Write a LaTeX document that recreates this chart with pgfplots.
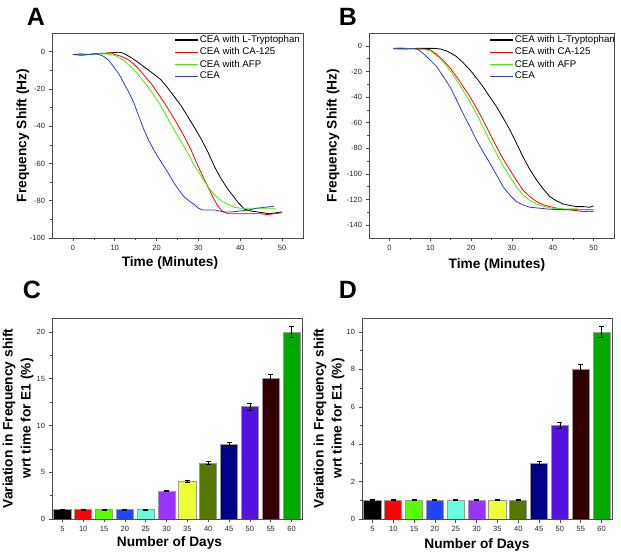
\documentclass[border=0pt]{standalone}
\usepackage{fontspec}
\setmainfont{Liberation Sans}
\usepackage{pgfplots}
\pgfplotsset{compat=1.18}
\definecolor{cRed}{HTML}{FF0000}
\definecolor{cLime}{HTML}{44EE00}
\definecolor{cBlue}{HTML}{2A3FD0}
\definecolor{bBlack}{HTML}{000000}
\definecolor{bRed}{HTML}{FF0000}
\definecolor{bLime}{HTML}{55FF00}
\definecolor{bBlue}{HTML}{2244FF}
\definecolor{bAqua}{HTML}{66FFDD}
\definecolor{bPurple}{HTML}{9933FF}
\definecolor{bYellow}{HTML}{EEFF33}
\definecolor{bOlive}{HTML}{557700}
\definecolor{bNavy}{HTML}{000088}
\definecolor{bViolet}{HTML}{5511DD}
\definecolor{bMaroon}{HTML}{330000}
\definecolor{bGreen}{HTML}{00AA00}
\pgfplotsset{
  common/.style={
    scale only axis,
    axis line style={black!70, line width=0.6pt},
    tick align=outside,
    xtick pos=bottom, ytick pos=left,
    major tick length=3.5pt, minor tick length=2pt,
    every tick/.style={black!70, line width=0.6pt},
    tick label style={font=\fontsize{7.5}{9}\selectfont, text=black!85},
    /pgf/number format/assume math mode=true,
    label style={font=\fontsize{13.7}{18}\selectfont\bfseries},
  },
  curves/.style={
    common,
    width=251pt, height=205pt,
    xmin=-5, xmax=55, xtick={0,10,...,50}, minor x tick num=1,
    xlabel={Time (Minutes)},
    ylabel={Frequency Shift (Hz)},
    minor y tick num=1,
    legend cell align=left,
    legend style={draw=none, fill=none, inner sep=0pt, row sep=0.6pt,
      font=\fontsize{9.7}{11}\selectfont,
      nodes={inner sep=1.5pt}},
    legend image code/.code={\draw[line width=1.2pt] (0pt,0pt) -- (23pt,0pt);},
  },
  bars/.style={
    common,
    width=250pt, height=201pt,
    xmin=2.5, xmax=62.5, xtick={5,10,...,60},
    ymin=0, minor y tick num=1,
    xlabel={Number of Days},
    ylabel={Variation in Frequency shift\\wrt time for E1 (\%)},
  },
  bb/.style={ybar, bar width=4.1, bar shift=0pt, draw=black!40, line width=0.8pt, fill=#1,
    error bars/.cd, y dir=both, y explicit,
    error bar style={black, line width=0.8pt},
    error mark options={rotate=90, black, mark size=2.5pt, line width=0.8pt}},
}
\begin{document}
\begin{tikzpicture}[x=1pt,y=1pt]
\useasboundingbox (0,0) rectangle (621,554);
\node[font=\fontsize{25}{30}\selectfont\bfseries] at (36,537) {A};
\node[font=\fontsize{25}{30}\selectfont\bfseries] at (348,537) {B};
\node[font=\fontsize{25}{30}\selectfont\bfseries] at (32,264) {C};
\node[font=\fontsize{25}{30}\selectfont\bfseries] at (348,264) {D};

% Panel A
\begin{axis}[curves, at={(52pt,316pt)}, anchor=south west,
  ymin=-100, ymax=10, ytick={-100,-80,...,0},
  xlabel style={at={(axis description cs:0.47,-0.122)}, anchor=center},
  ylabel style={at={(axis description cs:-0.116,0.5)}, anchor=center},
  legend style={at={(axis description cs:0.486,0.995)}, anchor=north west}]
\addplot[black, line width=0.8pt] coordinates {(0,-1.5) (2,-1.3) (4,-1.5) (6,-1) (8,-0.8) (10,-0.5) (11,-0.3) (12,-0.8) (13,-2) (14.5,-4) (16,-6.5) (17.5,-9) (19,-11.5) (21,-15) (22.5,-19) (24.2,-24) (26,-29.5) (27.5,-35) (29,-40.5) (30.7,-47) (32.3,-54) (33.9,-62) (35.5,-68.5) (37.1,-74) (38.5,-78) (39.5,-81) (41,-84.5) (42.5,-85.5) (44,-86) (45.5,-86.5) (47,-87) (48.5,-86.5) (50,-86)};
\addlegendentry{CEA with L-Tryptophan}
\addplot[cRed, line width=0.8pt] coordinates {(0,-1.5) (2,-2) (4,-1.5) (6,-1) (8,-1) (9,-0.5) (10,-1.5) (11.5,-2.5) (13,-4) (14.5,-6.5) (16,-10) (17.5,-14) (19,-18) (20.5,-23) (22,-28) (23.5,-33.5) (25,-39) (26.6,-45.5) (28.2,-52.5) (29.9,-61.5) (31.3,-68) (32.7,-74.5) (33.8,-79.5) (34.7,-83) (35.7,-85.5) (37,-87) (40,-87) (43,-87) (45,-87) (46.5,-87.5) (48,-87) (50,-86.5)};
\addlegendentry{CEA with CA-125}
\addplot[cLime, line width=0.8pt] coordinates {(0,-1.5) (2,-1.5) (4,-1.5) (6,-1.2) (8,-1.2) (9.5,-1.8) (10.5,-2.5) (12,-4.5) (13.3,-7) (14.6,-9.7) (16.2,-14) (17.8,-18.6) (19.4,-23.5) (21,-29) (22.6,-35.5) (24.2,-42) (25.8,-48) (27.5,-54.5) (29,-61) (30.7,-67) (32.3,-72.5) (33.9,-77) (35.5,-80) (37.1,-82) (38.5,-83.5) (40,-84) (43,-84) (46,-84) (48.5,-84)};
\addlegendentry{CEA with AFP}
\addplot[cBlue, line width=0.8pt] coordinates {(0,-1.5) (2,-1.7) (4,-1.5) (5.5,-1.2) (6.5,-1.8) (7.3,-2.5) (8.5,-4.5) (9.7,-8) (11,-12) (12.2,-17) (13.4,-22) (14.6,-27.6) (15.8,-35) (17,-42) (18.2,-48) (19.4,-53) (20.6,-57.5) (21.8,-61.6) (23,-66) (24.2,-70.6) (25.4,-74.5) (26.6,-78) (28,-80.5) (29,-82) (30,-84) (31,-85) (32.5,-85) (34,-85) (36,-86) (38,-86) (40,-85.5) (42,-85) (44,-84) (46,-83.5) (48,-83)};
\addlegendentry{CEA}
\end{axis}

% Panel B
\begin{axis}[curves, width=245pt, at={(369pt,316pt)}, anchor=south west,
  ymin=-150, ymax=10, ytick={-140,-120,...,0},
  xlabel style={at={(axis description cs:0.522,-0.13)}, anchor=center},
  ylabel style={at={(axis description cs:-0.147,0.5)}, anchor=center},
  legend style={at={(axis description cs:0.49,0.995)}, anchor=north west}]
\addplot[black, line width=0.8pt] coordinates {(1,-2.3) (3,-1.8) (5,-2.2) (7,-2) (9,-2) (11,-2) (12.5,-2.5) (14,-4) (15.2,-6) (16.4,-8.3) (18,-13) (19.7,-18.75) (21.3,-25) (22.9,-31.8) (24.5,-39.5) (26.2,-47.4) (27.8,-56) (29.5,-65.6) (31.1,-76) (32.7,-86.5) (34.3,-96) (36,-104.7) (37.6,-111.5) (39.3,-117.7) (40.9,-121) (42.5,-123.4) (44,-124.5) (45.8,-125.5) (47.5,-125.5) (49,-126) (50,-125)};
\addlegendentry{CEA with L-Tryptophan}
\addplot[cRed, line width=0.8pt] coordinates {(1,-2.3) (3,-2.5) (5,-2.2) (7,-2.5) (8.5,-2.5) (9.9,-3) (11.5,-6.5) (13.1,-11) (14.8,-17) (16.4,-24) (18,-31.5) (19.7,-39.6) (21.3,-48.5) (22.9,-57.8) (24.5,-68) (26.2,-78.6) (27.8,-88) (29.5,-96.9) (31.1,-105) (32.7,-112.5) (34.3,-117.5) (36,-121.6) (37.6,-124) (39.3,-125.5) (41,-126.8) (42.5,-127.6) (44,-128) (45.8,-128.6) (47.5,-129.5) (49,-129) (50,-129.5)};
\addlegendentry{CEA with CA-125}
\addplot[cLime, line width=0.8pt] coordinates {(1,-2.3) (3,-2.5) (5,-2.3) (7,-2.5) (8.5,-2.8) (10,-4) (11.5,-7.5) (13.1,-12.3) (14.8,-19) (16.4,-26.6) (18,-34.5) (19.7,-43.5) (21.3,-53) (22.9,-63) (24.5,-73.5) (26.2,-83.9) (27.8,-93.5) (29.5,-102) (31.1,-110) (32.7,-116.4) (34.3,-120.5) (36,-123.4) (37.6,-125.2) (39.3,-126.5) (41,-127) (42.5,-127.3) (44,-127.3) (46,-127.2)};
\addlegendentry{CEA with AFP}
\addplot[cBlue, line width=0.8pt] coordinates {(1,-2) (2,-1.8) (4,-2.5) (6,-2) (7,-3) (8.2,-5.7) (9.8,-10.5) (11.5,-16) (13.1,-23.5) (14.8,-31.8) (16.4,-42) (18,-52.6) (19.7,-63) (21.3,-73.4) (22.9,-82.5) (24.6,-91.6) (26.2,-100.5) (27.8,-109.9) (29.5,-116.5) (31.1,-121.6) (32.7,-124.2) (34.4,-126) (36,-126.5) (37.6,-127) (39.3,-127.6) (42,-127.8) (45,-128) (48,-128) (50,-128)};
\addlegendentry{CEA}
\end{axis}

% Panel C
\begin{axis}[bars, at={(52pt,35pt)}, anchor=south west,
  ymax=21.5, ytick={0,5,...,20},
  xlabel style={at={(axis description cs:0.47,-0.12)}, anchor=center},
  ylabel style={at={(axis description cs:-0.136,0.5)}, anchor=center, align=center}]
\addplot[bb=bBlack] coordinates {(5,1) +- (0,0.05)};
\addplot[bb=bRed] coordinates {(10,1) +- (0,0.05)};
\addplot[bb=bLime] coordinates {(15,1) +- (0,0.05)};
\addplot[bb=bBlue] coordinates {(20,1) +- (0,0.05)};
\addplot[bb=bAqua] coordinates {(25,1) +- (0,0.05)};
\addplot[bb=bPurple] coordinates {(30,3) +- (0,0.1)};
\addplot[bb=bYellow] coordinates {(35,4) +- (0,0.12)};
\addplot[bb=bOlive] coordinates {(40,6) +- (0,0.15)};
\addplot[bb=bNavy] coordinates {(45,8) +- (0,0.2)};
\addplot[bb=bViolet] coordinates {(50,12) +- (0,0.35)};
\addplot[bb=bMaroon] coordinates {(55,15) +- (0,0.45)};
\addplot[bb=bGreen] coordinates {(60,20) +- (0,0.6)};
\end{axis}

% Panel D
\begin{axis}[bars, at={(362pt,35pt)}, anchor=south west,
  ymax=10.75, ytick={0,2,...,10},
  xlabel style={at={(axis description cs:0.46,-0.13)}, anchor=center},
  ylabel style={at={(axis description cs:-0.132,0.5)}, anchor=center, align=center}]
\addplot[bb=bBlack] coordinates {(5,1) +- (0,0.03)};
\addplot[bb=bRed] coordinates {(10,1) +- (0,0.03)};
\addplot[bb=bLime] coordinates {(15,1) +- (0,0.03)};
\addplot[bb=bBlue] coordinates {(20,1) +- (0,0.03)};
\addplot[bb=bAqua] coordinates {(25,1) +- (0,0.03)};
\addplot[bb=bPurple] coordinates {(30,1) +- (0,0.03)};
\addplot[bb=bYellow] coordinates {(35,1) +- (0,0.03)};
\addplot[bb=bOlive] coordinates {(40,1) +- (0,0.03)};
\addplot[bb=bNavy] coordinates {(45,3) +- (0,0.08)};
\addplot[bb=bViolet] coordinates {(50,5) +- (0,0.15)};
\addplot[bb=bMaroon] coordinates {(55,8) +- (0,0.25)};
\addplot[bb=bGreen] coordinates {(60,10) +- (0,0.3)};
\end{axis}
\end{tikzpicture}
\end{document}
